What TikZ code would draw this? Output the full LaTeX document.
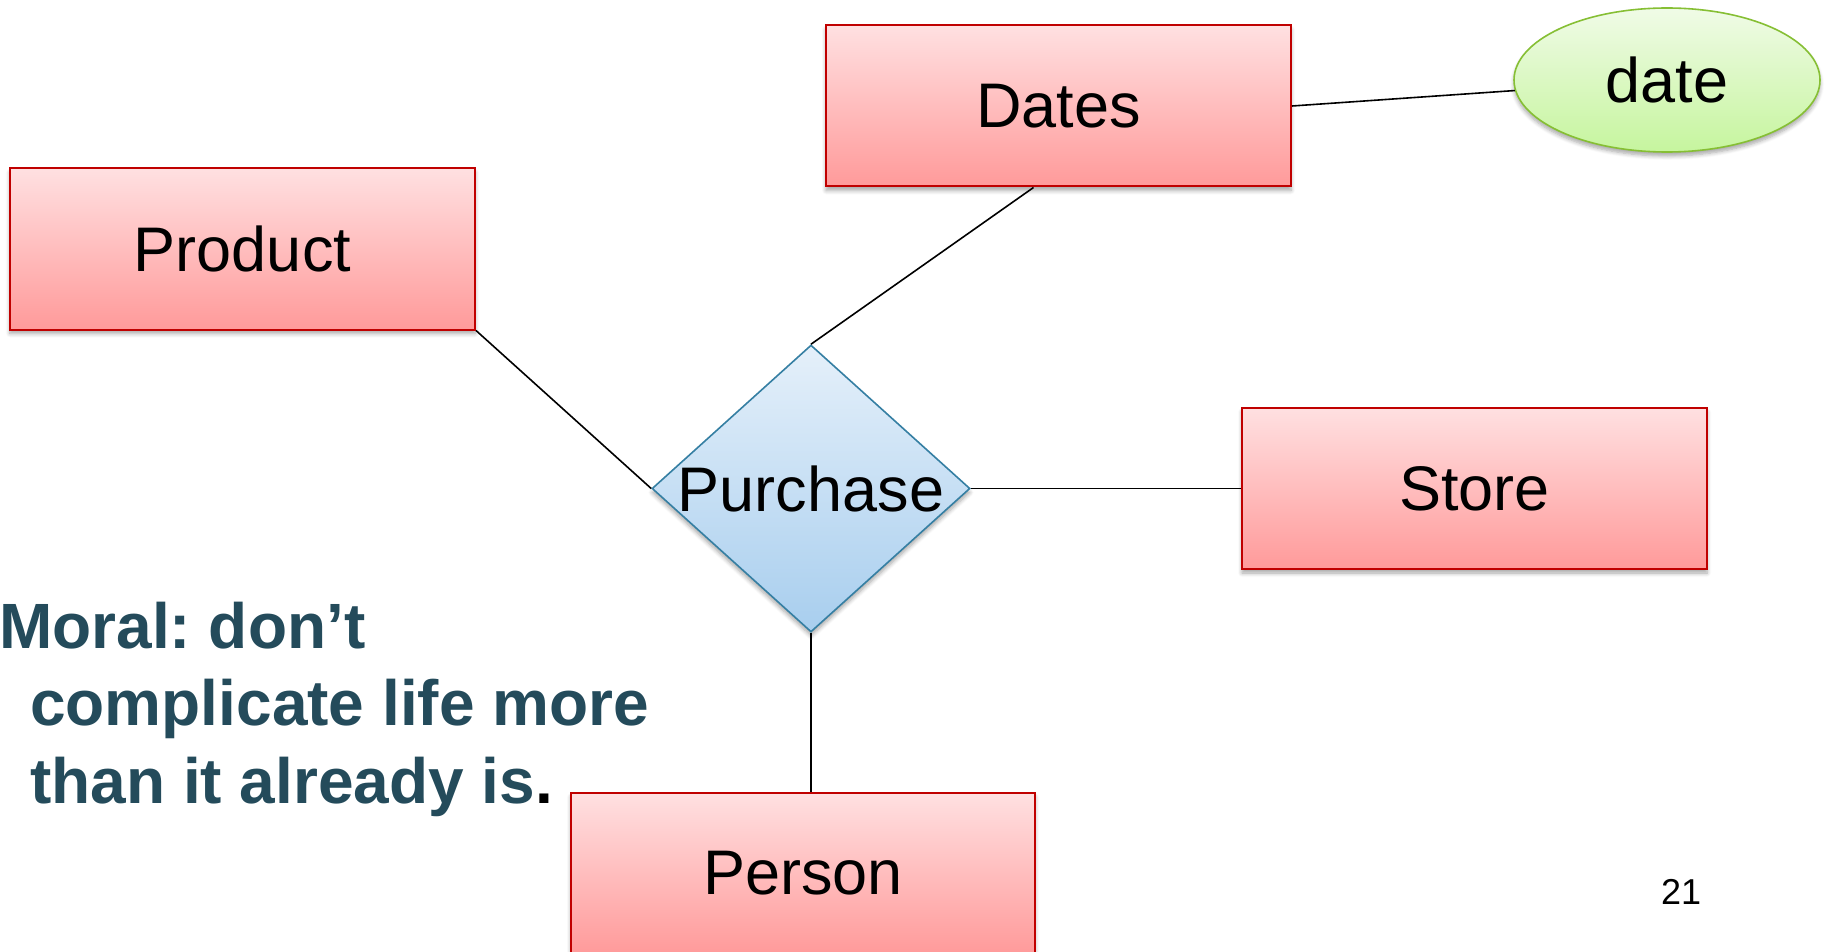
\documentclass[tikz,border=0pt]{standalone}
\usepackage{fontspec}
\setmainfont{Liberation Sans}
\usetikzlibrary{shapes.geometric,shadows.blur}
\frenchspacing

\definecolor{entTop}{HTML}{FFE0E1}
\definecolor{entBot}{HTML}{FF9A9A}
\definecolor{entLine}{HTML}{C00000}
\definecolor{relTop}{HTML}{E5F0FA}
\definecolor{relBot}{HTML}{A8CEEE}
\definecolor{relLine}{HTML}{357FA3}
\definecolor{attTop}{HTML}{F0FBE7}
\definecolor{attBot}{HTML}{C6F59E}
\definecolor{attLine}{HTML}{86BF34}
\definecolor{moralInk}{HTML}{244B5B}

\tikzset{
  softshadow/.style={blur shadow={shadow xshift=0pt, shadow yshift=-4pt,
      shadow blur steps=6, shadow blur radius=4pt, shadow opacity=35}},
  label/.style={font=\fontsize{63}{75}\selectfont, text=black},
  entity/.style={rectangle, draw=entLine, line width=2pt,
      top color=entTop, bottom color=entBot, softshadow, label,
      minimum width=465pt, minimum height=161pt, inner sep=0pt},
  relation/.style={diamond, draw=relLine, line width=1.6pt,
      top color=relTop, bottom color=relBot, softshadow, label,
      minimum width=318pt, minimum height=287pt, inner sep=0pt},
  attribute/.style={ellipse, draw=attLine, line width=1.6pt,
      top color=attTop, bottom color=attBot, softshadow, label,
      minimum width=306pt, minimum height=144pt, inner sep=0pt},
  link/.style={draw=black, line width=1.6pt},
  moral/.style={anchor=base west, inner sep=0pt, text=moralInk,
      font=\fontsize{64}{77}\bfseries\selectfont},
}

\begin{document}
\begin{tikzpicture}[x=1pt, y=-1pt]
  \useasboundingbox (0,0) rectangle (1825,952);
  \clip (0,0) rectangle (1825,952);

  % entities, relationship and attribute
  \node[entity] (product) at (242.5,249) {Product};
  \node[entity] (dates) at (1058.5,106) {Dates};
  \node[entity] (store) at (1474.5,488.5) {Store};
  \node[entity, minimum width=464pt] (person) at (803,873.5) {Person};
  \node[relation] (purchase) at (811,488.5) {\makebox[0pt]{Purchase}};
  \node[attribute] (date) at (1667,80) {date};

  % connectors
  \draw[link] (product.south east) -- (purchase.west);
  \draw[link] ([xshift=-25pt]dates.south) -- (purchase.north);
  \draw[link] (dates.east) -- (date);
  \draw[link] (purchase.east) -- (store.west);
  \draw[link] (purchase.south) -- (purchase.south |- person.north);

  % note text
  \node[moral] (m1) at (-1,648) {Moral: don’t};
  \node[moral] (m2) at (30,725) {complicate life more};
  \node[moral] (m3) at (30,803) {than it already is{\color{black}.}};

  % slide number
  \node[anchor=base, inner sep=0pt, font=\fontsize{36}{40}\selectfont] (pagenum) at (1681,904) {21};
\end{tikzpicture}
\end{document}
